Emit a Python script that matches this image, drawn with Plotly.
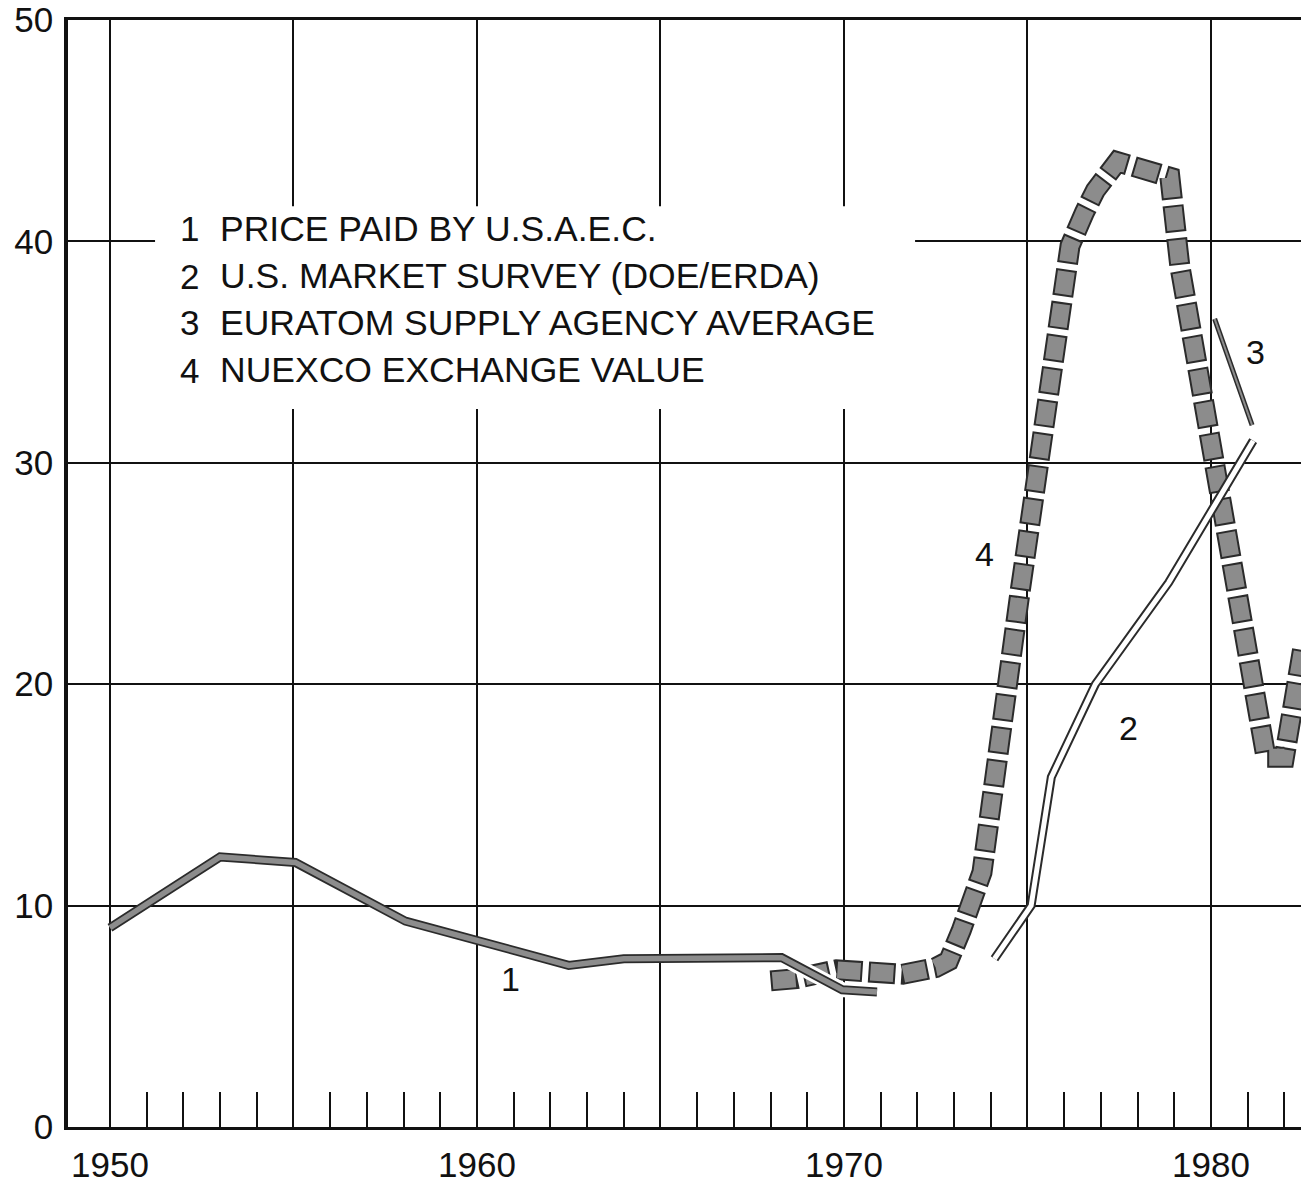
import plotly.graph_objects as go

# ---------------- data ----------------
# 1 Price paid by U.S.A.E.C.
usaec_years = [1950.0, 1953.0, 1955.05, 1958.05, 1962.5, 1964.0, 1968.3, 1969.95, 1970.9]
usaec_vals = [9.0, 12.2, 11.95, 9.3, 7.3, 7.6, 7.65, 6.2, 6.1]

# 2 U.S. market survey (DOE/ERDA)
survey_years = [1974.1, 1975.1, 1975.65, 1976.85, 1978.85, 1981.15]
survey_vals = [7.6, 10.0, 15.8, 20.0, 24.6, 31.0]

# 3 Euratom supply agency average
euratom_years = [1980.1, 1981.12]
euratom_vals = [36.5, 31.7]

# 4 NUEXCO exchange value
nuexco_years = [1968.0, 1968.7, 1969.8, 1970.7, 1971.6, 1972.5, 1972.85, 1973.2, 1973.5,
                1973.76, 1974.8, 1975.5, 1976.16, 1976.55, 1976.85, 1977.45, 1978.55,
                1978.88, 1979.15, 1981.5, 1982.0, 1982.5]
nuexco_vals = [6.6, 6.7, 7.1, 7.0, 6.9, 7.2, 7.5, 8.9, 10.2,
               11.5, 24.2, 32.5, 39.8, 41.3, 42.3, 43.6, 43.2,
               42.9, 38.9, 16.7, 16.7, 21.6]

legend_numbers = ["1", "2", "3", "4"]
legend_texts = ["PRICE PAID BY U.S.A.E.C.",
                "U.S. MARKET SURVEY (DOE/ERDA)",
                "EURATOM SUPPLY AGENCY AVERAGE",
                "NUEXCO EXCHANGE VALUE"]

# in-plot series labels (year, value)
label_text = ["1", "2", "3", "4"]
label_x = [1960.9, 1977.74, 1981.2, 1973.84]
label_y = [6.7, 18.0, 35.0, 25.9]

x_tickvals = [1950, 1955, 1960, 1965, 1970, 1975, 1980]
x_ticktext = ["1950", "", "1960", "", "1970", "", "1980"]
x_minor_ticks = [y for y in range(1951, 1983) if y % 5 != 0]
y_tickvals = [0, 10, 20, 30, 40, 50]

# ---------------- styling ----------------
FONT = "Liberation Sans, Arial, Helvetica, sans-serif"
DARK = "#2b2b2b"
GRAY = "#8c8c8c"

fig = go.Figure()

# NUEXCO: thick dashed band with outlined blocks
fig.add_trace(go.Scatter(x=nuexco_years, y=nuexco_vals, mode="lines",
                         line=dict(color=DARK, width=21, dash="27px,6px"),
                         hoverinfo="skip"))
fig.add_trace(go.Scatter(x=nuexco_years, y=nuexco_vals, mode="lines",
                         line=dict(color=GRAY, width=17, dash="0px,2px,23px,8px"),
                         hoverinfo="skip"))

# USAEC: knock-out halo where it crosses NUEXCO
fig.add_trace(go.Scatter(x=usaec_years[-3:], y=usaec_vals[-3:], mode="lines",
                         line=dict(color="white", width=15),
                         hoverinfo="skip"))
fig.add_trace(go.Scatter(x=usaec_years, y=usaec_vals, mode="lines",
                         line=dict(color=DARK, width=9),
                         hoverinfo="skip"))
fig.add_trace(go.Scatter(x=usaec_years, y=usaec_vals, mode="lines",
                         line=dict(color=GRAY, width=5.5),
                         hoverinfo="skip"))

# Market survey: double (hollow) line
fig.add_trace(go.Scatter(x=survey_years, y=survey_vals, mode="lines",
                         line=dict(color=DARK, width=9),
                         hoverinfo="skip"))
fig.add_trace(go.Scatter(x=survey_years, y=survey_vals, mode="lines",
                         line=dict(color="white", width=5),
                         hoverinfo="skip"))

# Euratom
fig.add_trace(go.Scatter(x=euratom_years, y=euratom_vals, mode="lines",
                         line=dict(color=DARK, width=5),
                         hoverinfo="skip"))
fig.add_trace(go.Scatter(x=euratom_years, y=euratom_vals, mode="lines",
                         line=dict(color=GRAY, width=2),
                         hoverinfo="skip"))

# white legend box hiding the grid
fig.add_shape(type="rect", xref="paper", yref="paper",
              x0=0.0706, x1=0.687, y0=0.6485, y1=0.8318,
              fillcolor="white", line=dict(width=0), layer="above")

legend_y = [0.8113, 0.7683, 0.7263, 0.6834]
for num, txt, yy in zip(legend_numbers, legend_texts, legend_y):
    fig.add_annotation(xref="paper", yref="paper", x=0.0892, y=yy,
                       text=num, showarrow=False, xanchor="left", yanchor="middle",
                       font=dict(family=FONT, size=35, color="#111"))
    fig.add_annotation(xref="paper", yref="paper", x=0.1216, y=yy,
                       text=txt, showarrow=False, xanchor="left", yanchor="middle",
                       font=dict(family=FONT, size=35.5, color="#111"))

for t, xx, yy in zip(label_text, label_x, label_y):
    fig.add_annotation(x=xx, y=yy, text=t, showarrow=False,
                       xanchor="center", yanchor="middle",
                       font=dict(family=FONT, size=34, color="#111"))

fig.update_layout(
    width=1301, height=1184,
    margin=dict(l=68, r=0, t=17, b=49),
    plot_bgcolor="white", paper_bgcolor="white",
    showlegend=False, hovermode=False,
    font=dict(family=FONT, size=35, color="#111"),
)

fig.update_xaxes(
    range=[1948.856, 1982.453],
    tickmode="array", tickvals=x_tickvals, ticktext=x_ticktext,
    ticks="inside", ticklen=35, tickwidth=1.5, tickcolor="#111",
    minor=dict(tickmode="array", tickvals=x_minor_ticks, ticks="inside", ticklen=35,
               tickwidth=1.5, tickcolor="#111", showgrid=False),
    showgrid=True, gridcolor="#111", gridwidth=1.5,
    showline=True, linecolor="#111", linewidth=3, mirror=True,
    zeroline=False, ticklabelstandoff=5, ticklabeloverflow="allow",
    tickfont=dict(family=FONT, size=35, color="#111"),
)
fig.update_yaxes(
    range=[0, 50],
    tickmode="array", tickvals=y_tickvals,
    ticks="", showgrid=True, gridcolor="#111", gridwidth=1.5,
    showline=True, linecolor="#111", linewidth=3.5, mirror=False,
    zeroline=False, ticklabelstandoff=4, ticklabeloverflow="allow",
    tickfont=dict(family=FONT, size=35, color="#111"),
)

fig.write_html("out.html", config={"displayModeBar": False},
               post_script="document.body.style.margin='0';document.body.style.overflow='hidden';")
